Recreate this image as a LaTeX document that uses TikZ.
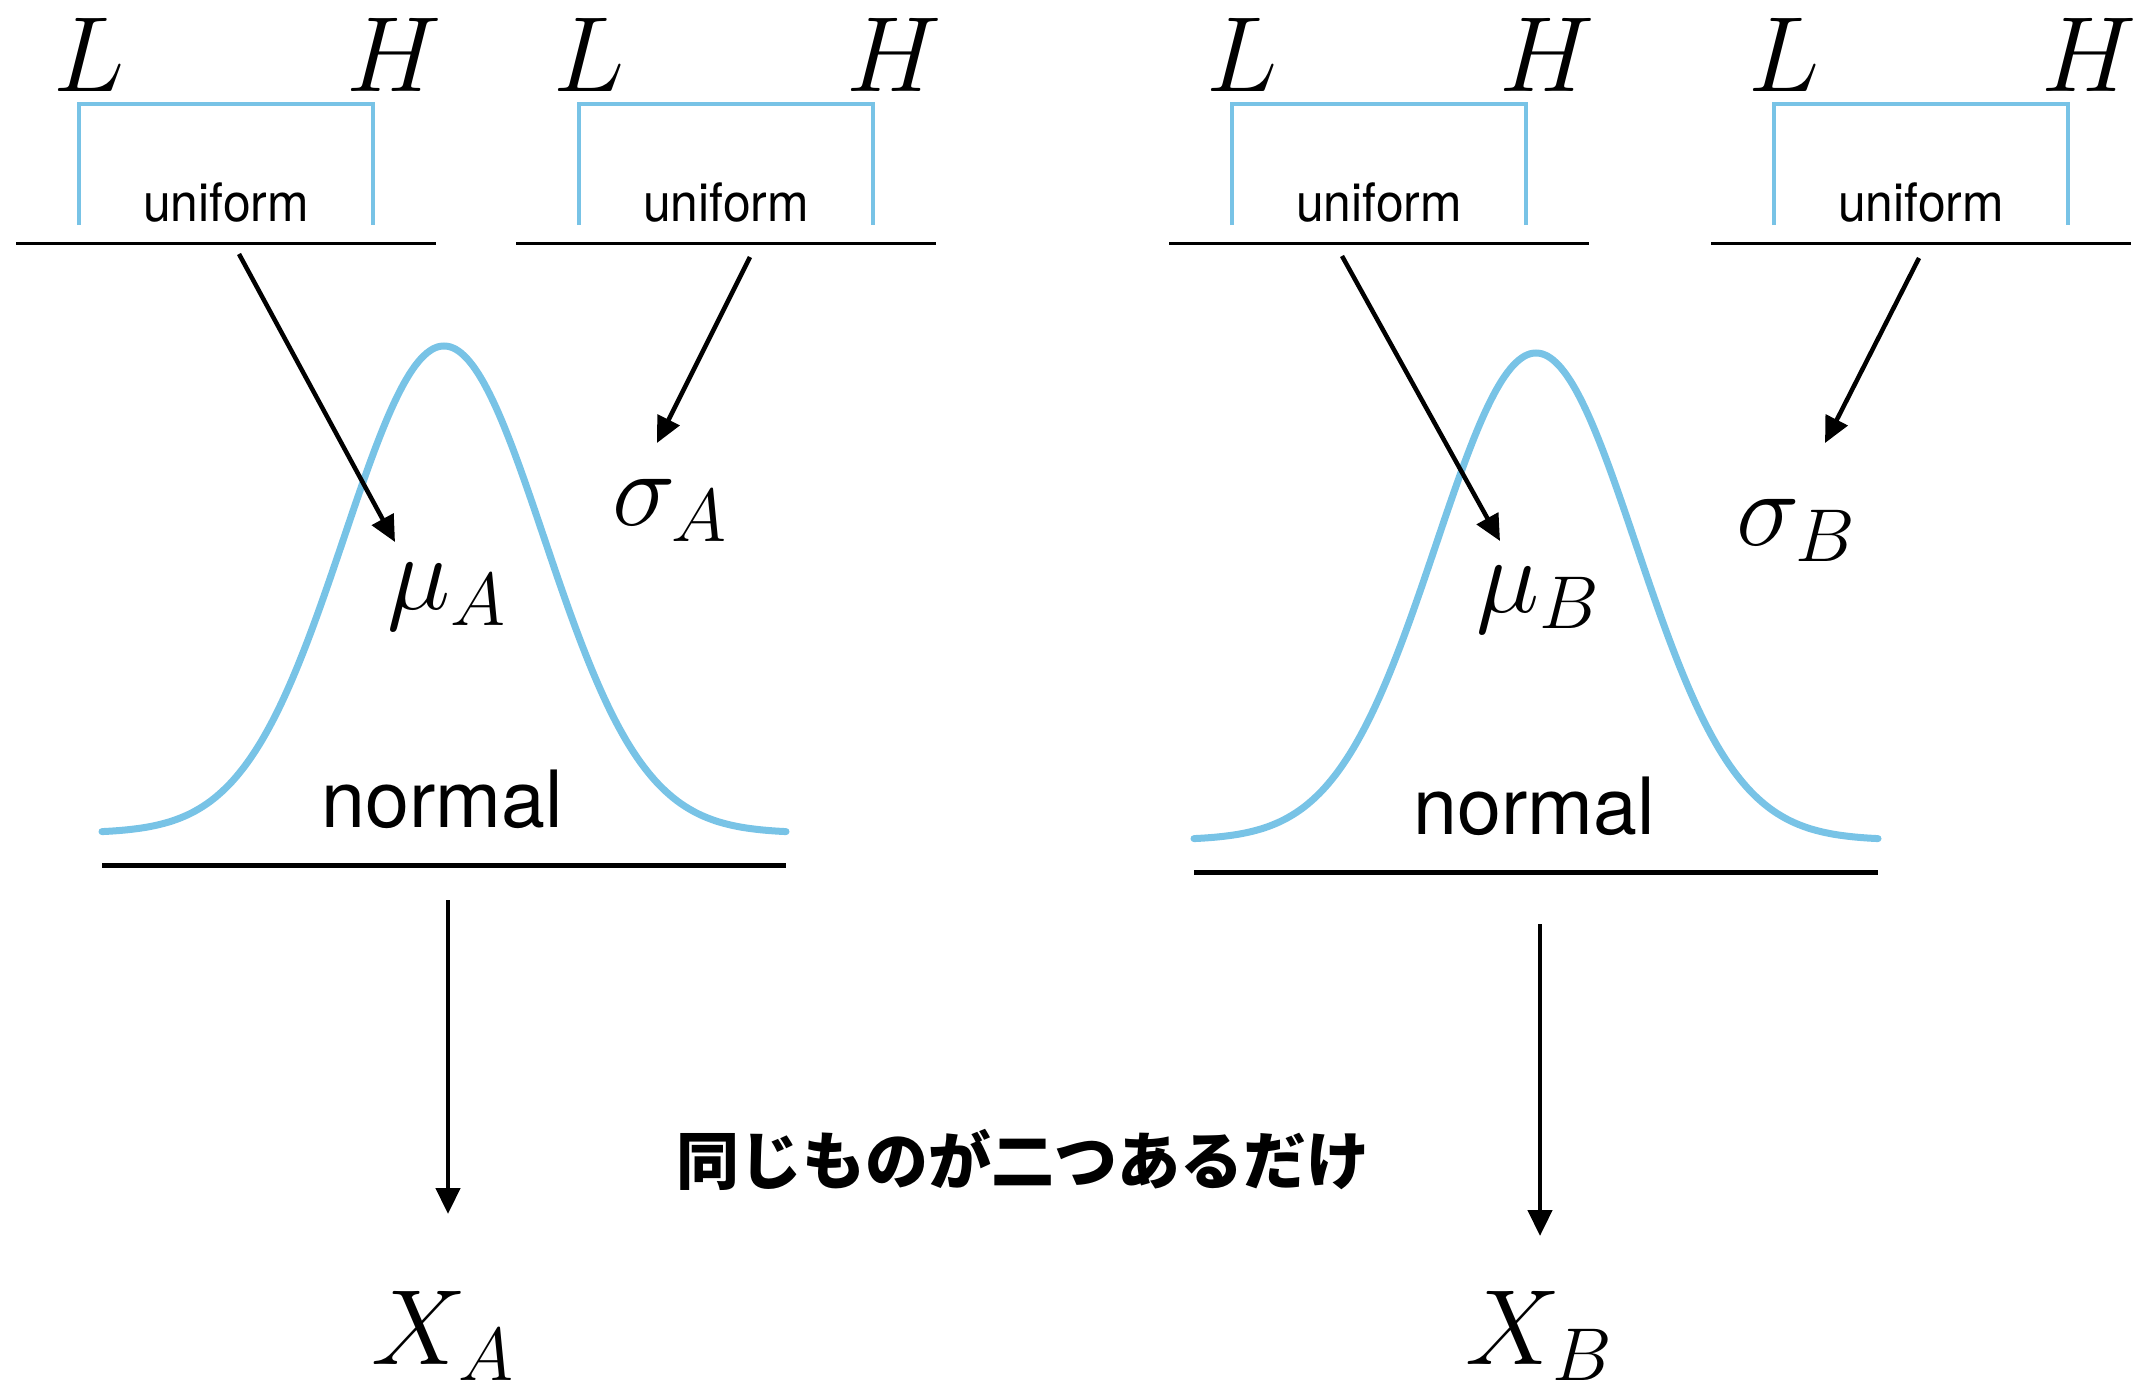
\RequirePackage{fix-cm}
\documentclass[tikz,border=0pt]{standalone}
\usepackage{fontspec}
\newfontfamily\helv{TeX Gyre Heros}
\newfontfamily\cjk{Noto Sans CJK JP}
\usetikzlibrary{arrows.meta}
\definecolor{curveblue}{RGB}{120,195,230}
\definecolor{ink}{RGB}{0,0,0}
\tikzset{
    uniformbox/.style={
        draw=curveblue,
        line width=4.5pt,
        line join=miter
    },
    bellcurve/.style={
        draw=curveblue,
        line width=7pt,
        line cap=round
    },
    groundline/.style={
        draw=ink,
        line width=3pt
    },
    normalground/.style={
        draw=ink,
        line width=5pt
    },
    samplearrow/.style={
        -{Triangle[length=26pt, width=24pt]},
        draw=ink,
        line width=4.5pt
    },
    mathlabel/.style={
        inner sep=0pt,
        text=ink,
        font=\fontsize{107}{120}\selectfont
    },
    distname/.style={
        inner sep=0pt,
        text=ink,
        font=\helv\fontsize{53}{60}\selectfont
    },
    bigdistname/.style={
        distname,
        font=\helv\fontsize{79}{86}\selectfont
    },
    note/.style={
        inner sep=0pt,
        text=ink,
        font=\cjk\bfseries\fontsize{63}{70}\selectfont
    }
}

\begin{document}
\begin{tikzpicture}[x=1pt, y=-1pt]
\useasboundingbox (0,0) rectangle (2141,1395);

% uniform priors for mu and sigma of both groups
\foreach \c/\n in {226/1, 726/2, 1379/3, 1921/4} {
    \draw[groundline] (\c-210,243) -- (\c+210,243);
    \draw[uniformbox] (\c-147,225) |- (\c+147,104) -- (\c+147,225);
    \node[distname, anchor=base, xscale=0.94] (unif\n) at (\c,221) {uniform};
    \node[mathlabel, anchor=base west] (low\n) at (\c-173,91) {$L$};
    \node[mathlabel, anchor=base west] (high\n) at (\c+120,91) {$H$};
}

% normal likelihoods
\foreach \c/\b/\n in {444/833/A, 1536/840/B} {
    \draw[bellcurve] plot[domain=-342:342, samples=121, smooth]
        ({\c+\x}, {\b-487*exp(-0.5*(\x/100)*(\x/100))});
    \draw[normalground] (\c-342,\b+32) -- (\c+342,\b+32);
    \node[bigdistname, anchor=base] (norm\n) at (\c-2,\b-6) {normal};
}

% parameters
\node[mathlabel, anchor=base west] (muA) at (387,609) {$\mu_A$};
\node[mathlabel, anchor=base west] (sigmaA) at (612,525) {$\sigma_A$};
\node[mathlabel, anchor=base west] (muB) at (1476,612) {$\mu_B$};
\node[mathlabel, anchor=base west] (sigmaB) at (1736,545) {$\sigma_B$};
\node[mathlabel, anchor=base west] (XA) at (371,1364) {$X_A$};
\node[mathlabel, anchor=base west] (XB) at (1465,1364) {$X_B$};

\node[note] (caption) at (1023,1160) {同じものが二つあるだけ};

% arrow ends
\coordinate (muAtail) at (239,254);
\coordinate (muAhead) at (395,542);
\coordinate (sigmaAtail) at (750,257);
\coordinate (sigmaAhead) at (657,443);
\coordinate (muBtail) at (1342,256);
\coordinate (muBhead) at (1500,541);
\coordinate (sigmaBtail) at (1919,258);
\coordinate (sigmaBhead) at (1825,443);
\coordinate (XAtail) at (448,900);
\coordinate (XAhead) at (448,1214);
\coordinate (XBtail) at (1540,924);
\coordinate (XBhead) at (1540,1236);

\draw[samplearrow] (muAtail) -- (muAhead);
\draw[samplearrow] (sigmaAtail) -- (sigmaAhead);
\draw[samplearrow] (muBtail) -- (muBhead);
\draw[samplearrow] (sigmaBtail) -- (sigmaBhead);
\draw[samplearrow] (XAtail) -- (XAhead);
\draw[samplearrow] (XBtail) -- (XBhead);

\end{tikzpicture}
\end{document}
